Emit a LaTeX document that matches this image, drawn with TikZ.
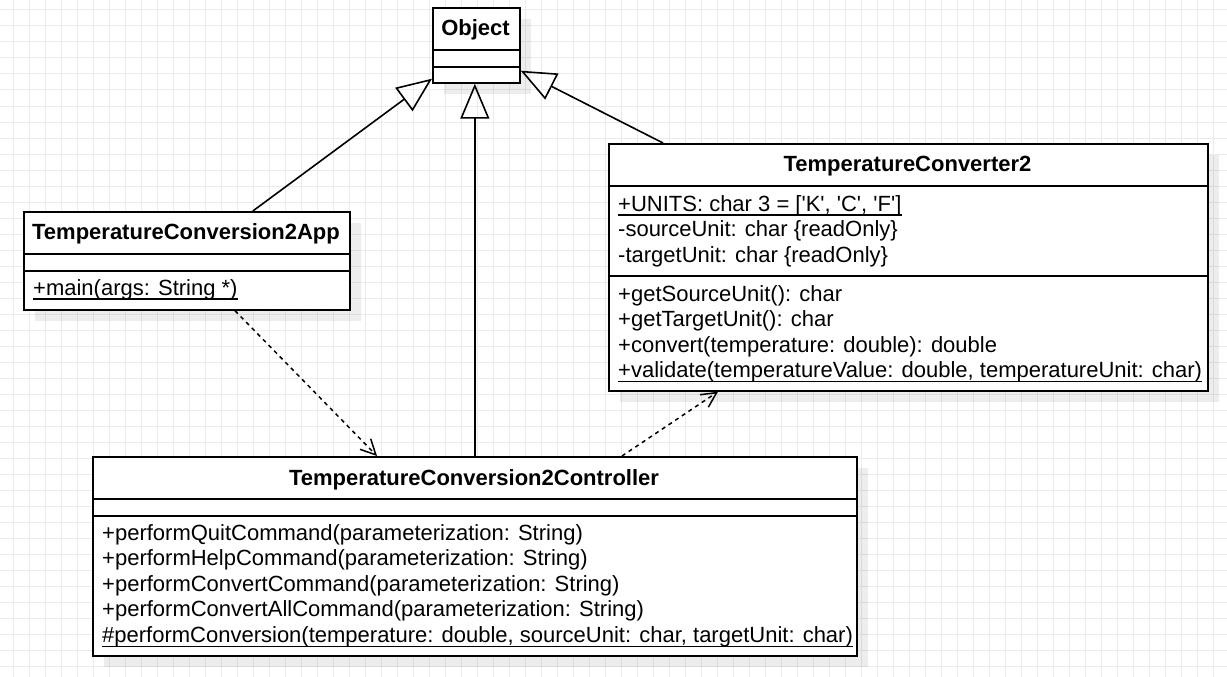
\documentclass[tikz,border=0pt]{standalone}
\usepackage{fontspec}
\setmainfont{Liberation Sans}[Ligatures=TeXOff]
\usetikzlibrary{arrows.meta}
\begin{document}
\begin{tikzpicture}[x=1pt,y=-1pt,
  gridline/.style={draw=black!8, line width=1pt},
  classbox/.style={draw=black, fill=white, line width=1.7pt, inner sep=0pt, anchor=north west},
  shadowbox/.style={fill=black, opacity=0.07, draw=none},
  divider/.style={draw=black, line width=1.6pt},
  titletext/.style={font=\bfseries\fontsize{22}{25}\selectfont, inner sep=0pt, anchor=base},
  member/.style={font=\fontsize{22}{25}\selectfont, inner sep=0pt, anchor=base west},
  uline/.style={line width=1.3pt},
  gen/.style={line width=1.6pt, -{Triangle[open, length=35pt, width=29pt, line width=1.6pt]}},
  dep/.style={line width=1.5pt, dash pattern=on 4pt off 4pt, -{Straight Barb[length=15pt, width=15pt, line width=1.5pt]}},
]
\useasboundingbox (0,0) rectangle (1227,677);
\fill[white] (0,0) rectangle (1227,677);
% grid
\foreach \x in {13,29,...,1227} \draw[gridline] (\x,0) -- (\x,677);
\foreach \y in {10,26,...,677} \draw[gridline] (0,\y) -- (1227,\y);
% shadows
\fill[shadowbox] (444,19) rectangle (531,94);
\fill[shadowbox] (35,223) rectangle (361,321);
\fill[shadowbox] (620,155) rectangle (1219,402);
\fill[shadowbox] (104,468) rectangle (868,667);
% boxes
\node[classbox, minimum width=87pt, minimum height=75pt] (obj) at (432,7) {};
\node[classbox, minimum width=326pt, minimum height=98pt] (app) at (23,211) {};
\node[classbox, minimum width=599pt, minimum height=247pt] (tc) at (608,143) {};
\node[classbox, minimum width=764pt, minimum height=199pt] (ctrl) at (92,456) {};
% dividers
\draw[divider] ([yshift=-43pt]obj.north west) -- ([yshift=-43pt]obj.north east);
\draw[divider] ([yshift=-60pt]obj.north west) -- ([yshift=-60pt]obj.north east);
\draw[divider] ([yshift=-43pt]app.north west) -- ([yshift=-43pt]app.north east);
\draw[divider] ([yshift=-60pt]app.north west) -- ([yshift=-60pt]app.north east);
\draw[divider] ([yshift=-43pt]tc.north west) -- ([yshift=-43pt]tc.north east);
\draw[divider] ([yshift=-133pt]tc.north west) -- ([yshift=-133pt]tc.north east);
\draw[divider] ([yshift=-43pt]ctrl.north west) -- ([yshift=-43pt]ctrl.north east);
\draw[divider] ([yshift=-60pt]ctrl.north west) -- ([yshift=-60pt]ctrl.north east);
% texts
\node[titletext] (objT) at (475.5,36) {Object};
\node[titletext] (appT) at (186,239) {TemperatureConversion2App};
\node[member] (appM) at (33,295) {+main(args: String *)};
\node[titletext] (tcT) at (907.5,171.5) {TemperatureConverter2};
\node[member] (tcA1) at (618,211) {+UNITS: char 3 = ['K', 'C', 'F']};
\node[member] (tcA2) at (618,236.5) {-sourceUnit: char \{readOnly\}};
\node[member] (tcA3) at (618,262) {-targetUnit: char \{readOnly\}};
\node[member] (tcO1) at (618,301) {+getSourceUnit(): char};
\node[member] (tcO2) at (618,326.5) {+getTargetUnit(): char};
\node[member] (tcO3) at (618,352) {+convert(temperature: double): double};
\node[member] (tcO4) at (618,377.5) {+validate(temperatureValue: double, temperatureUnit: char)};
\node[titletext] (ctrlT) at (474,485) {TemperatureConversion2Controller};
\node[member] (cO1) at (102,540) {+performQuitCommand(parameterization: String)};
\node[member] (cO2) at (102,565.5) {+performHelpCommand(parameterization: String)};
\node[member] (cO3) at (102,591) {+performConvertCommand(parameterization: String)};
\node[member] (cO4) at (102,616.5) {+performConvertAllCommand(parameterization: String)};
\node[member] (cO5) at (102,642) {\#performConversion(temperature: double, sourceUnit: char, targetUnit: char)};
% underlines
\draw[uline] ([yshift=-4pt]appM.base west) -- ([yshift=-4pt]appM.base east);
\draw[uline] ([yshift=-4pt]tcA1.base west) -- ([yshift=-4pt]tcA1.base east);
\draw[uline] ([yshift=-4pt]tcO4.base west) -- ([yshift=-4pt]tcO4.base east);
\draw[uline] ([yshift=-4.5pt]cO5.base west) -- ([yshift=-4.5pt]cO5.base east);
% connectors
\draw[gen] ([xshift=66pt]app.north) -- ([yshift=5pt]obj.south west);
\draw[gen] (ctrl.north) -- (ctrl.north |- obj.south);
\draw[gen] ([xshift=55pt]tc.north west) -- ([yshift=13pt]obj.south east);
\draw[dep] ([xshift=212pt]app.south west) -- ([xshift=285pt]ctrl.north west);
\draw[dep] ([xshift=530pt]ctrl.north west) -- ([xshift=110pt]tc.south west);
\end{tikzpicture}
\end{document}
